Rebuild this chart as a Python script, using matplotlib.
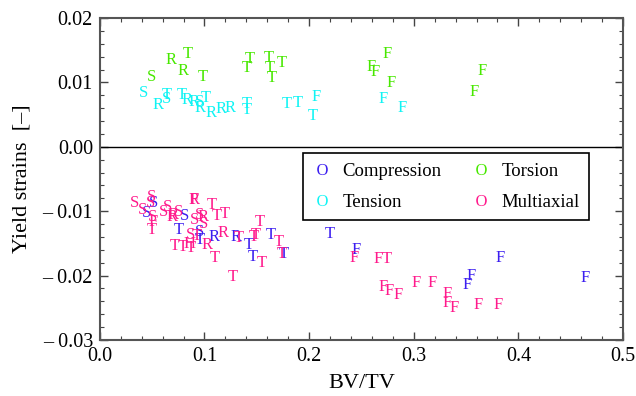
import matplotlib
matplotlib.use("Agg")
import matplotlib.pyplot as plt
from matplotlib.lines import Line2D
from matplotlib.ticker import MultipleLocator, FuncFormatter

plt.rcParams['font.family'] = ['Liberation Serif', 'DejaVu Serif']
plt.rcParams['mathtext.fontset'] = 'custom'
plt.rcParams['mathtext.rm'] = 'Liberation Serif'

# Datos: (BV/TV, deformacion, letra)
comp_x = [0.0446, 0.0516, 0.0813, 0.0758, 0.0949, 0.0956, 0.1090, 0.1300, 0.1428, 0.1466,
          0.1632, 0.1762, 0.2199, 0.2447, 0.3506, 0.3553, 0.3824, 0.4637]
comp_y = [-0.01023, -0.00868, -0.01075, -0.01292, -0.01318, -0.01447, -0.01406, -0.01406, -0.01525, -0.01706,
          -0.0137, -0.01665, -0.01354, -0.01602, -0.02146, -0.02006, -0.01732, -0.02042]
comp_l = ['S', 'S', 'S', 'T', 'S', 'T', 'R', 'R', 'T', 'T',
          'T', 'T', 'T', 'F', 'F', 'F', 'F', 'F']

tens_x = [0.0421, 0.0558, 0.0637, 0.0637, 0.0787, 0.0835, 0.0902, 0.0949, 0.1013, 0.0956,
          0.1061, 0.1157, 0.1243, 0.1405, 0.1405, 0.1785, 0.1890, 0.2065, 0.2039, 0.2709, 0.2890]
tens_y = [0.0083, 0.0065, 0.0074, 0.0080, 0.0080, 0.00727, 0.0069, 0.0070, 0.00753, 0.0060,
          0.0052, 0.00582, 0.00607, 0.0066, 0.0057, 0.00665, 0.00675, 0.0077, 0.00478, 0.0074, 0.0061]
tens_l = ['S', 'R', 'S', 'T', 'T', 'R', 'R', 'S', 'T', 'R',
          'R', 'R', 'R', 'T', 'T', 'T', 'T', 'F', 'T', 'F', 'F']

tors_x = [0.049, 0.0676, 0.0845, 0.0797, 0.0982, 0.1434, 0.1405, 0.1619, 0.1625, 0.1644,
          0.1743, 0.2741, 0.2597, 0.2630, 0.2782, 0.3649, 0.3579]
tors_y = [0.0108, 0.01348, 0.0144, 0.01177, 0.0108, 0.01359, 0.01228, 0.01374, 0.01219, 0.01073,
          0.01297, 0.01441, 0.01234, 0.01166, 0.00996, 0.01182, 0.00856]
tors_l = ['S', 'R', 'T', 'R', 'T', 'T', 'T', 'T', 'T', 'T',
          'T', 'F', 'F', 'F', 'F', 'F', 'F']

mult_x = [0.0335, 0.0408, 0.0494, 0.0484, 0.0503, 0.0510, 0.0500, 0.0605, 0.0643, 0.0685,
          0.0749, 0.0700, 0.0902, 0.0902, 0.0902, 0.0949, 0.0988, 0.0988, 0.1067, 0.1122,
          0.1195, 0.0867, 0.0924, 0.0717, 0.0797, 0.0860, 0.0867, 0.1026, 0.1099, 0.1173,
          0.1268, 0.1332, 0.1472, 0.1488, 0.1530, 0.1552, 0.1711, 0.1743, 0.2428, 0.2661,
          0.2741, 0.2709, 0.2763, 0.2852, 0.3027, 0.3171, 0.3321, 0.3315, 0.3384, 0.3611, 0.3808]
mult_y = [-0.00868, -0.00981, -0.00775, -0.00878, -0.01085, -0.01163, -0.01292, -0.01008, -0.0093, -0.01085,
          -0.01008, -0.0106, -0.00826, -0.00826, -0.01137, -0.0106, -0.01085, -0.0120, -0.00904, -0.01075,
          -0.01044, -0.0137, -0.01385, -0.0154, -0.0155, -0.01514, -0.01576, -0.01525, -0.01722, -0.01334,
          -0.02027, -0.01421, -0.01406, -0.0137, -0.01163, -0.01809, -0.01473, -0.01665, -0.01732, -0.01747,
          -0.01747, -0.02172, -0.02234, -0.02301, -0.0212, -0.0212, -0.02286, -0.02421, -0.02508, -0.02457, -0.02457]
mult_l = ['S', 'S', 'S', 'S', 'S', 'F', 'T', 'S', 'S', 'R',
          'S', 'R', 'F', 'R', 'S', 'S', 'R', 'S', 'T', 'T',
          'T', 'S', 'T', 'T', 'T', 'H', 'T', 'R', 'T', 'R',
          'T', 'T', 'T', 'T', 'T', 'T', 'T', 'T', 'F', 'F',
          'T', 'F', 'F', 'F', 'F', 'F', 'F', 'F', 'F', 'F', 'F']

grupos = [
    ('Compression', '#3c1ef0', comp_x, comp_y, comp_l),
    ('Tension', '#10f4f4', tens_x, tens_y, tens_l),
    ('Torsion', '#48e800', tors_x, tors_y, tors_l),
    ('Multiaxial', '#ff1a8c', mult_x, mult_y, mult_l),
]

fig = plt.figure(figsize=(6.36, 3.96), dpi=100)
ax = fig.add_axes([0.157, 0.1414, 0.8226, 0.8131])

handles = []
for nombre, color, xs, ys, ls in grupos:
    for x, y, l in zip(xs, ys, ls):
        ax.text(x, y, l, color=color, fontsize=12, ha='center', va='center')
    handles.append(Line2D([], [], linestyle='none', marker=r'$\mathrm{O}$',
                          markersize=8, markeredgewidth=0, color=color, label=nombre))

ax.axhline(0, color='black', lw=1)

ax.set_xlim(0, 0.5)
ax.set_ylim(-0.03, 0.02)
ax.xaxis.set_major_locator(MultipleLocator(0.1))
ax.xaxis.set_minor_locator(MultipleLocator(0.02))
ax.yaxis.set_major_locator(MultipleLocator(0.01))
ax.yaxis.set_minor_locator(MultipleLocator(0.002))

def fmt_y(v, pos):
    if v < -1e-9:
        return '\u2013 %.2f' % abs(v)
    return '%.2f' % abs(v)

ax.yaxis.set_major_formatter(FuncFormatter(fmt_y))
ax.xaxis.set_major_formatter(FuncFormatter(lambda v, p: '%.1f' % v))

ax.tick_params(which='both', direction='in', top=True, right=True, labelsize=14.5, color='#444444')
ax.tick_params(which='major', length=6, width=1, pad=5)
ax.tick_params(which='minor', length=3, width=0.8)
for s in ax.spines.values():
    s.set_color('#555555')
    s.set_linewidth(1.5)

ax.set_xlabel('BV/TV', fontsize=16, labelpad=6)
ax.set_ylabel('Yield strains  [\u2013]', fontsize=16, labelpad=8)

leg = ax.legend(handles=handles, ncol=2, loc='upper left', bbox_to_anchor=(0.388, 0.58),
                borderaxespad=0, fontsize=13.5, fancybox=False, framealpha=1, edgecolor='black',
                handlelength=1.0, handletextpad=0.6, columnspacing=1.6, borderpad=0.5,
                labelspacing=0.75)
leg.get_frame().set_linewidth(1.2)

fig.savefig('out.png', dpi=100)
